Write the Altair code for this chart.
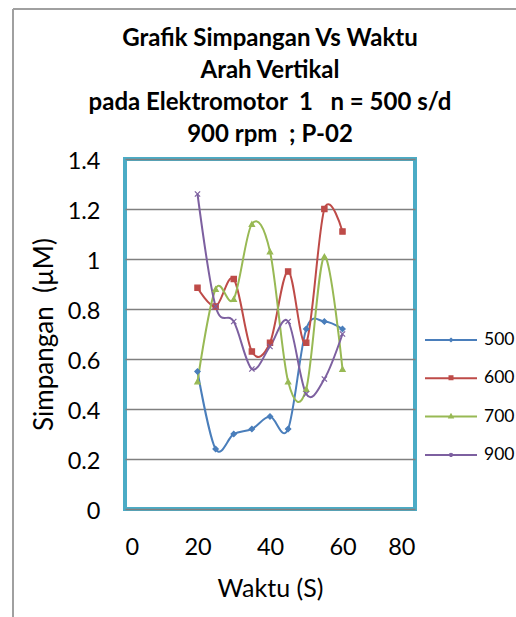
import altair as alt
import pandas as pd

# ---- data ----
waktu = [20, 25, 30, 35, 40, 45, 50, 55, 60]
s500 = [0.55, 0.24, 0.30, 0.32, 0.37, 0.32, 0.72, 0.75, 0.72]
s600 = [0.885, 0.81, 0.92, 0.63, 0.665, 0.95, 0.665, 1.20, 1.11]
s700 = [0.51, 0.88, 0.84, 1.14, 1.03, 0.51, 0.48, 1.01, 0.56]
s900 = [1.26, 0.81, 0.75, 0.56, 0.65, 0.75, 0.46, 0.52, 0.70]

series_names = ["500", "600", "700", "900"]
series_values = [s500, s600, s700, s900]
colors = ["#4A7EBB", "#BE4B48", "#98B954", "#7D60A0"]

x_ticks = [0, 20, 40, 60, 80]
y_ticks = [0, 0.2, 0.4, 0.6, 0.8, 1.0, 1.2, 1.4]

title_lines = [
    "Grafik Simpangan Vs Waktu",
    "Arah Vertikal",
    "pada Elektromotor\u00a0 1 \u00a0 n = 500 s/d",
    "900 rpm \u00a0; P-02",
]

rows = []
for name, vals in zip(series_names, series_values):
    for t, v in zip(waktu, vals):
        rows.append({"waktu": t, "simpangan": v, "series": name})
df = pd.DataFrame(rows)

FONT = "Lato"

x_enc = alt.X(
    "waktu:Q",
    scale=alt.Scale(domain=[0, 80], nice=False),
    axis=alt.Axis(
        values=x_ticks, title="Waktu (S)", grid=False, ticks=False, domain=False,
        labelPadding=26, titlePadding=18, labelFontSize=23.5, titleFontSize=25,
        labelFont=FONT, titleFont=FONT, titleFontWeight="normal",
        labelColor="black", titleColor="black",
    ),
)
y_enc = alt.Y(
    "simpangan:Q",
    scale=alt.Scale(domain=[0, 1.4], nice=False),
    axis=alt.Axis(
        values=y_ticks, format=".1~f", title="Simpangan\u00a0 (\u00b5M)",
        grid=True, gridColor="#808080", gridWidth=1.5,
        ticks=False, domain=False, labelPadding=25, titlePadding=10,
        labelFontSize=23.5, titleFontSize=26, labelFont=FONT, titleFont=FONT,
        titleFontWeight="normal", labelColor="black", titleColor="black",
        labelOffset=2,
    ),
)

lines = alt.Chart(df).mark_line(interpolate="cardinal", strokeWidth=2).encode(
    x=x_enc, y=y_enc,
    color=alt.Color("series:N", scale=alt.Scale(domain=series_names, range=colors), legend=None),
)

marker_shapes = ["diamond", "square", "triangle-up", "M-1,-1L1,1M1,-1L-1,1"]
points = alt.Chart(df).mark_point(filled=True, opacity=1, size=28, strokeWidth=1.2).encode(
    x="waktu:Q", y="simpangan:Q",
    fill=alt.Fill("series:N", scale=alt.Scale(domain=series_names, range=colors), legend=None),
    stroke=alt.Stroke("series:N", scale=alt.Scale(domain=series_names, range=colors), legend=None),
    shape=alt.Shape("series:N", scale=alt.Scale(domain=series_names, range=marker_shapes), legend=None),
)

legend_shapes = [
    "M-2.6,0H2.6M0,-0.12L0.12,0L0,0.12L-0.12,0Z",
    "M-2.6,0H2.6M-0.15,-0.2H0.15V0.1H-0.15Z",
    "M-2.6,0H2.6M0,-0.18L0.15,0.08H-0.15Z",
    "M-2.6,0H2.6M-0.15,-0.15L0.15,0.15M0.15,-0.15L-0.15,0.15",
]
leg = dict(title=None, orient="none", legendX=315, legendY=170, symbolSize=400,
           symbolStrokeWidth=2, labelFont=FONT, labelFontSize=17.5, labelColor="black",
           labelOffset=22, rowPadding=18.3, padding=0)
legend_layer = alt.Chart(df).transform_filter("false").mark_point(
    filled=True, opacity=1, size=400, strokeWidth=2
).encode(
    x="waktu:Q", y="simpangan:Q",
    fill=alt.Fill("series:N", scale=alt.Scale(domain=series_names, range=colors), legend=alt.Legend(**leg)),
    stroke=alt.Stroke("series:N", scale=alt.Scale(domain=series_names, range=colors), legend=alt.Legend(**leg)),
    shape=alt.Shape("series:N", scale=alt.Scale(domain=series_names, range=legend_shapes), legend=alt.Legend(**leg)),
)

# outer chart-area frame (left and top edges visible in the reference)
frame_left = alt.Chart(df).mark_rule(color="#A0A0A0", strokeWidth=2).encode(
    x=alt.value(-112), y=alt.value(-150), y2=alt.value(470)
)
frame_top = alt.Chart(df).mark_rule(color="#A0A0A0", strokeWidth=2).encode(
    x=alt.value(-112), x2=alt.value(400), y=alt.value(-150)
)

chart = alt.layer(frame_left, frame_top, lines, points, legend_layer).resolve_scale(
    fill="independent", stroke="independent", shape="independent"
).properties(
    width=290, height=350,
    background="white",
    autosize=alt.AutoSizeParams(type="none"),
    padding={"left": 125, "top": 159, "right": 101, "bottom": 108},
    title=alt.TitleParams(
        text=title_lines, font=FONT, fontSize=24, fontWeight="bold", color="black",
        lineHeight=32, anchor="middle", offset=-139,
    ),
).configure_view(
    stroke="#4BACC6", strokeWidth=4
)

chart.save("out.html", embed_options={"renderer": "svg", "actions": False})
